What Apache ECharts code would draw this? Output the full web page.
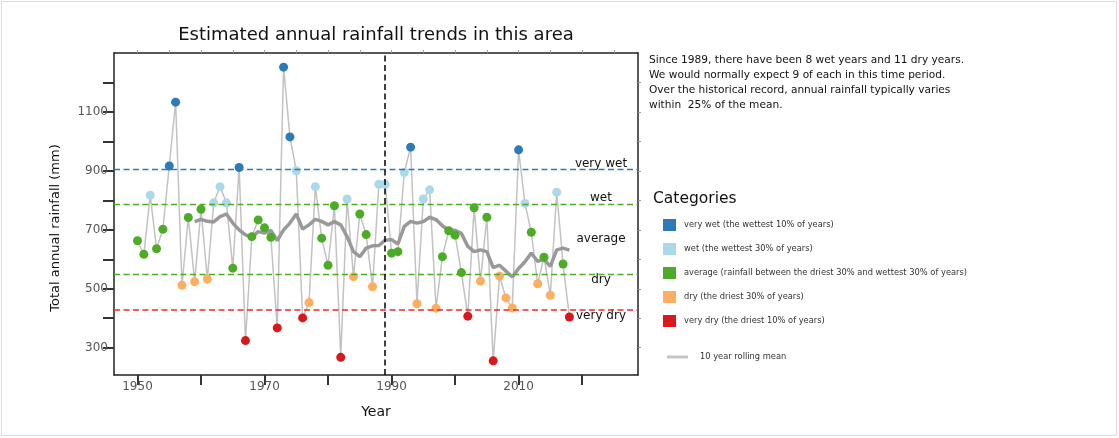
<!DOCTYPE html>
<html>
<head>
<meta charset="utf-8">
<title>Estimated annual rainfall trends</title>
<script src="https://cdn.jsdelivr.net/npm/echarts@6/dist/echarts.min.js"></script>
<style>
  html, body { margin: 0; padding: 0; background: #fff; }
  #chart { width: 1119px; height: 438px; }
</style>
</head>
<body>
<div id="chart"></div>
<script>
// annual totals (mm)
const years = [
  1950, 1951, 1952, 1953, 1954, 1955, 1956, 1957, 1958, 1959,
  1960, 1961, 1962, 1963, 1964, 1965, 1966, 1967, 1968, 1969,
  1970, 1971, 1972, 1973, 1974, 1975, 1976, 1977, 1978, 1979,
  1980, 1981, 1982, 1983, 1984, 1985, 1986, 1987, 1988, 1989,
  1990, 1991, 1992, 1993, 1994, 1995, 1996, 1997, 1998, 1999,
  2000, 2001, 2002, 2003, 2004, 2005, 2006, 2007, 2008, 2009,
  2010, 2011, 2012, 2013, 2014, 2015, 2016, 2017, 2018
]
const rainfall = [
  663, 617, 818, 636, 702, 917, 1134, 512, 742, 524,
  770, 533, 792, 847, 792, 570, 912, 324, 677, 734,
  707, 675, 367, 1253, 1016, 901, 401, 453, 847, 672,
  580, 782, 267, 805, 541, 754, 684, 507, 855, 855,
  621, 626, 895, 981, 449, 805, 836, 434, 609, 697,
  682, 555, 407, 775, 526, 743, 255, 543, 469, 435,
  972, 790, 692, 517, 607, 478, 828, 584, 404
]

// 10 year rolling mean
const rollingYears = [
  1959, 1960, 1961, 1962, 1963, 1964, 1965, 1966, 1967, 1968,
  1969, 1970, 1971, 1972, 1973, 1974, 1975, 1976, 1977, 1978,
  1979, 1980, 1981, 1982, 1983, 1984, 1985, 1986, 1987, 1988,
  1989, 1990, 1991, 1992, 1993, 1994, 1995, 1996, 1997, 1998,
  1999, 2000, 2001, 2002, 2003, 2004, 2005, 2006, 2007, 2008,
  2009, 2010, 2011, 2012, 2013, 2014, 2015, 2016, 2017, 2018
]
const rollingMean = [
  728, 736, 729, 727, 745, 754, 723, 700, 683, 675,
  694, 689, 698, 664, 700, 723, 754, 703, 717, 736,
  729, 717, 728, 717, 677, 626, 609, 638, 646, 647,
  665, 667, 652, 712, 729, 723, 728, 743, 735, 714,
  699, 699, 688, 644, 626, 632, 626, 572, 580, 560,
  540, 569, 592, 621, 593, 600, 576, 632, 638, 631
]

// category limits (mm) and the year the count starts
const veryWetLimit = 906
const wetLimit = 787
const dryLimit = 548
const veryDryLimit = 429
const splitYear = 1989

const xTicks = [1950, 1960, 1970, 1980, 1990, 2000, 2010, 2020]
const xLabels = [1950, 1970, 1990, 2010]
const topTicks = [1950, 1955, 1960, 1965, 1970, 1975, 1980, 1985, 1990, 1995, 2000, 2005, 2010, 2015, 2020, 2025]
const yTicks = [300, 400, 500, 600, 700, 800, 900, 1000, 1100, 1200]
const yLabels = [300, 500, 700, 900, 1100]

const categoryNames = [
  'very wet (the wettest 10% of years)',
  'wet (the wettest 30% of years)',
  'average (rainfall between the driest 30% and wettest 30% of years)',
  'dry (the driest 30% of years)',
  'very dry (the driest 10% of years)'
]
const categoryColors = ['#2c7bb6', '#abd9e9', '#4dac26', '#fdae61', '#d7191c']
const rollingName = '10 year rolling mean'

const font = 'DejaVu Sans'

function categoryOf(v) {
  if (v > veryWetLimit) return 0
  if (v > wetLimit) return 1
  if (v < veryDryLimit) return 4
  if (v < dryLimit) return 3
  return 2
}

const pointsByCategory = categoryNames.map(() => [])
years.forEach((y, i) => {
  pointsByCategory[categoryOf(rainfall[i])].push([y, rainfall[i]])
})

const chart = echarts.init(document.getElementById('chart'))

const dash = [6, 3.5]
const plain = v => String(v)

chart.setOption({
  backgroundColor: '#fff',
  animation: false,
  textStyle: { fontFamily: font },
  grid: {
    left: 114,
    right: 481,
    top: 53,
    bottom: 63
  },
  xAxis: [{
    type: 'value',
    min: 1946.3,
    max: 2028.8,
    axisLine: { lineStyle: { color: '#222', width: 1.5 } },
    axisTick: {
      customValues: xTicks,
      length: 10,
      lineStyle: { color: '#333', width: 2 }
    },
    axisLabel: {
      customValues: xLabels,
      formatter: plain,
      fontSize: 12,
      color: '#555',
      margin: 6,
      fontFamily: font
    },
    splitLine: { show: false }
  }, {
    type: 'value',
    position: 'top',
    min: 1946.3,
    max: 2028.8,
    axisLine: { lineStyle: { color: '#222', width: 1.5 } },
    axisTick: {
      customValues: topTicks,
      length: 3,
      lineStyle: { color: '#999', width: 1 }
    },
    axisLabel: { show: false },
    splitLine: { show: false }
  }],
  yAxis: [{
    type: 'value',
    min: 207,
    max: 1301,
    axisLine: { show: true, lineStyle: { color: '#222', width: 1.5 } },
    axisTick: {
      show: true,
      customValues: yTicks,
      length: 11,
      lineStyle: { color: '#333', width: 2 }
    },
    axisLabel: {
      customValues: yLabels,
      formatter: plain,
      fontSize: 12,
      color: '#555',
      margin: 6,
      fontFamily: font
    },
    splitLine: { show: false }
  }, {
    type: 'value',
    position: 'right',
    min: 207,
    max: 1301,
    axisLine: { show: true, lineStyle: { color: '#222', width: 1.5 } },
    axisTick: {
      show: true,
      customValues: yTicks,
      length: 3,
      lineStyle: { color: '#999', width: 1 }
    },
    axisLabel: { show: false },
    splitLine: { show: false }
  }],
  legend: [{
    data: categoryNames,
    orient: 'vertical',
    left: 658,
    top: 214,
    icon: 'rect',
    itemWidth: 13,
    itemHeight: 12,
    itemGap: 12,
    selectedMode: false,
    textStyle: { fontSize: 8.3, color: '#333', fontFamily: font, padding: [0, 0, 0, 3] }
  }, {
    data: [{ name: rollingName, itemStyle: { color: '#c4c4c4' } }],
    left: 662,
    top: 348,
    icon: 'rect',
    itemWidth: 21,
    itemHeight: 3,
    selectedMode: false,
    textStyle: { fontSize: 8.3, color: '#333', fontFamily: font, padding: [0, 0, 0, 7] }
  }],
  series: [
    {
      name: 'annual',
      type: 'line',
      data: years.map((y, i) => [y, rainfall[i]]),
      showSymbol: false,
      silent: true,
      z: 1,
      lineStyle: { color: '#c2c2c2', width: 1.5 },
      markLine: {
        silent: true,
        symbol: 'none',
        label: { show: false },
        data: [
          { yAxis: veryWetLimit, lineStyle: { color: '#2c7bb6', type: dash, width: 1.4 } },
          { yAxis: wetLimit, lineStyle: { color: '#4dac26', type: dash, width: 1.4 } },
          { yAxis: dryLimit, lineStyle: { color: '#4dac26', type: dash, width: 1.4 } },
          { yAxis: veryDryLimit, lineStyle: { color: '#ee2a2a', type: dash, width: 1.5 } },
          { xAxis: splitYear, lineStyle: { color: '#000', type: dash, width: 1.5 } }
        ]
      }
    },
    {
      name: rollingName,
      type: 'line',
      data: rollingYears.map((y, i) => [y, rollingMean[i]]),
      showSymbol: false,
      silent: true,
      z: 2,
      itemStyle: { color: '#999' },
      lineStyle: { color: '#999', width: 3.5 }
    }
  ].concat(categoryNames.map((name, k) => ({
    name: name,
    type: 'scatter',
    data: pointsByCategory[k],
    symbolSize: 9,
    z: 3,
    itemStyle: { color: categoryColors[k], opacity: 1 }
  }))),
  graphic: [
    {
      type: 'rect',
      silent: true,
      shape: { x: 1.5, y: 1.5, width: 1115, height: 434 },
      style: { fill: 'none', stroke: '#ddd', lineWidth: 1 }
    },
    {
      type: 'text', silent: true,
      x: 376, y: 35,
      style: { text: 'Estimated annual rainfall trends in this area', font: '18px "DejaVu Sans"', fill: '#111', align: 'center', verticalAlign: 'middle' }
    },
    {
      type: 'text', silent: true,
      x: 56, y: 228, rotation: Math.PI / 2,
      style: { text: 'Total annual rainfall (mm)', font: '13px "DejaVu Sans"', fill: '#111', align: 'center', verticalAlign: 'middle' }
    },
    {
      type: 'text', silent: true,
      x: 376, y: 412,
      style: { text: 'Year', font: '14px "DejaVu Sans"', fill: '#111', align: 'center', verticalAlign: 'middle' }
    },
    {
      type: 'text', silent: true,
      x: 649, y: 53,
      style: {
        text: 'Since 1989, there have been 8 wet years and 11 dry years.\nWe would normally expect 9 of each in this time period.\nOver the historical record, annual rainfall typically varies\nwithin  25% of the mean.',
        font: '10.6px "DejaVu Sans"', fill: '#111', lineHeight: 15, align: 'left', verticalAlign: 'top'
      }
    },
    {
      type: 'text', silent: true,
      x: 653, y: 199,
      style: { text: 'Categories', font: '15.5px "DejaVu Sans"', fill: '#111', align: 'left', verticalAlign: 'middle' }
    },
    { type: 'text', silent: true, x: 601, y: 164, style: { text: 'very wet', font: '12px "DejaVu Sans"', fill: '#111', align: 'center', verticalAlign: 'middle' } },
    { type: 'text', silent: true, x: 601, y: 198, style: { text: 'wet', font: '12px "DejaVu Sans"', fill: '#111', align: 'center', verticalAlign: 'middle' } },
    { type: 'text', silent: true, x: 601, y: 239, style: { text: 'average', font: '12px "DejaVu Sans"', fill: '#111', align: 'center', verticalAlign: 'middle' } },
    { type: 'text', silent: true, x: 601, y: 280, style: { text: 'dry', font: '12px "DejaVu Sans"', fill: '#111', align: 'center', verticalAlign: 'middle' } },
    { type: 'text', silent: true, x: 601, y: 316, style: { text: 'very dry', font: '12px "DejaVu Sans"', fill: '#111', align: 'center', verticalAlign: 'middle' } }
  ]
})
</script>
</body>
</html>
